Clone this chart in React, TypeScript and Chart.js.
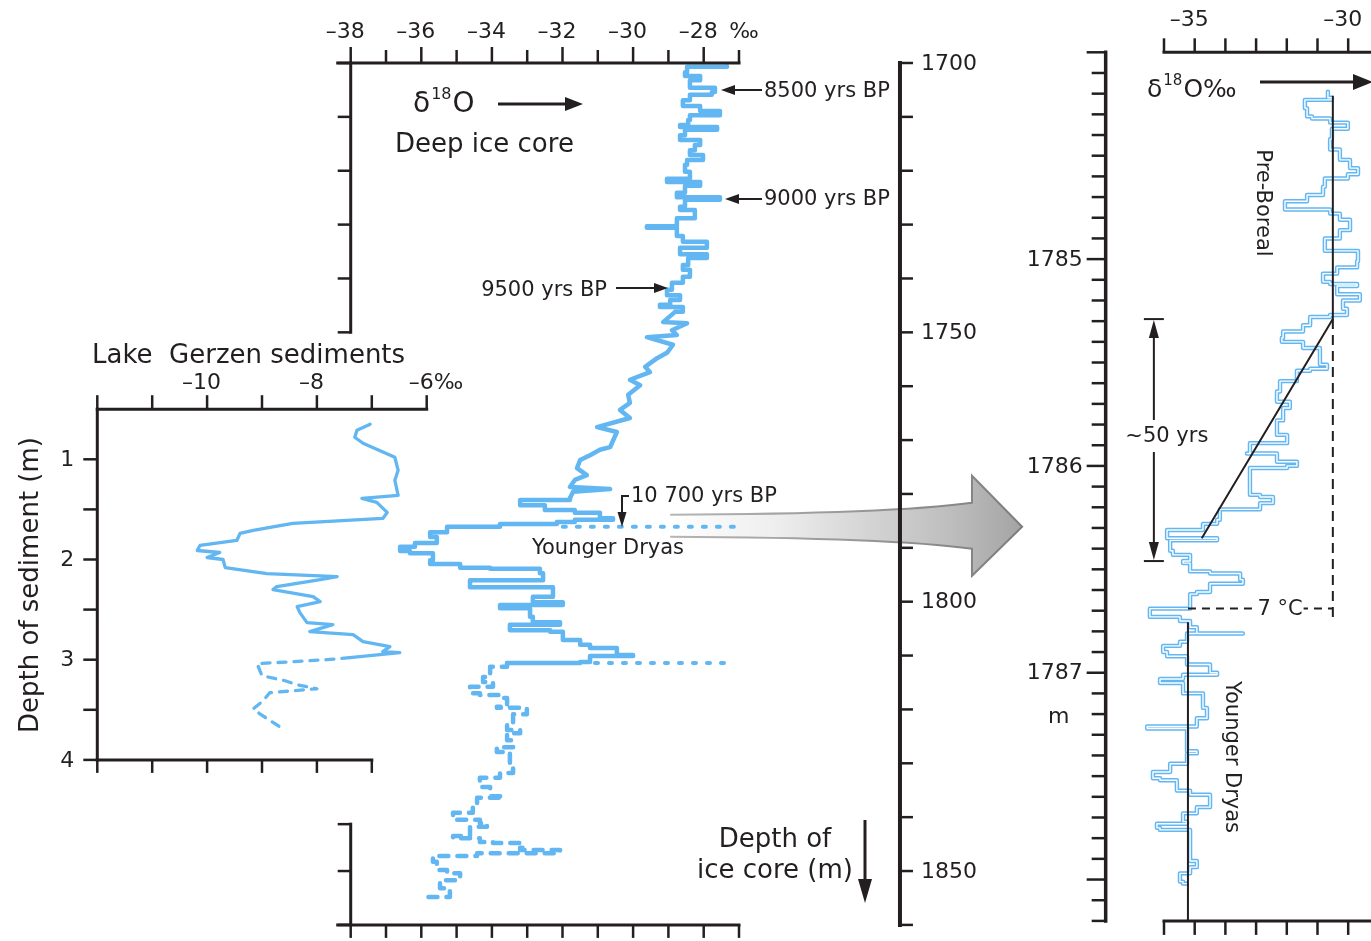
import React, { useEffect, useRef } from "react";
import { Chart, registerables } from "chart.js";

Chart.register(...registerables);

const W = 1371;
const H = 941;
const FONT = '"DejaVu Sans", "Open Sans", sans-serif';
const INK = "#231f20";
const BLUE = "#62b6f1";

// ---------------- Deep ice core: δ18O (‰) against depth (m) ----------------
const iceDelta = [
  -27.34, -28.47, -28.53, -28.10, -28.39, -27.68, -27.77, -28.39, -28.59, -28.10,
  -27.54, -28.39, -28.44, -28.67, -27.62, -28.53, -28.67, -28.10, -28.25, -28.39,
  -28.02, -28.47, -28.53, -28.39, -29.04, -28.10, -28.53, -28.76, -27.54, -28.53,
  -28.67, -28.25, -28.76, -29.61, -28.76, -28.59, -27.91, -28.67, -27.91, -28.44,
  -28.59, -28.39, -28.59, -28.90, -29.04, -28.67, -28.95, -29.24, -28.59, -28.81,
  -29.15, -28.47, -28.90, -28.76, -29.61, -28.87, -29.04, -29.32, -29.66, -29.52,
  -30.09, -29.80, -30.14, -30.09, -30.37, -30.09, -31.02, -30.46, -30.65, -30.94,
  -31.22, -31.50, -31.59, -31.31, -31.65, -31.79, -30.65, -31.70, -31.79, -33.20,
  -32.50, -31.65, -30.94, -30.57, -31.65, -32.16, -33.77, -35.27, -35.75, -35.56,
  -36.18, -36.60, -36.32, -35.67, -35.75, -34.90, -34.05, -32.64, -32.55, -34.62,
  -34.62, -32.27, -32.84, -31.99, -33.77, -32.92, -32.84, -32.07, -33.49, -32.35,
  -31.99, -31.50, -31.22, -30.46, -30.00, -31.22, -31.50, -33.57, -34.05, -34.25,
  -33.97, -34.62, -34.34, -33.77, -33.57, -33.86, -33.01, -33.01, -33.40, -33.57,
  -33.20, -33.57, -33.40, -33.86, -33.49, -33.40, -33.77, -34.34, -34.05, -33.68,
  -34.42, -34.54, -35.10, -34.34, -34.14, -34.62, -35.10, -34.34, -33.97, -33.12,
  -33.20, -32.07, -34.42, -35.67, -35.56, -35.27, -34.90, -35.47, -35.19, -36.04,
];
const iceDepth = [
  1700.6, 1700.7, 1701.7, 1702.4, 1703.2, 1704.6, 1705.4, 1705.9, 1706.9, 1708.0,
  1708.9, 1709.7, 1710.6, 1711.5, 1711.9, 1712.4, 1713.4, 1714.3, 1715.2, 1716.2,
  1717.1, 1718.0, 1718.9, 1720.2, 1721.5, 1722.1, 1722.8, 1724.1, 1724.9, 1725.4,
  1726.7, 1727.3, 1728.8, 1730.3, 1730.6, 1732.1, 1733.2, 1734.3, 1735.5, 1736.2,
  1737.5, 1738.4, 1739.7, 1740.8, 1742.1, 1743.1, 1744.0, 1744.9, 1745.3, 1746.2,
  1748.1, 1748.3, 1749.6, 1750.5, 1750.9, 1752.3, 1753.8, 1754.8, 1756.4, 1757.4,
  1758.8, 1759.8, 1761.6, 1763.1, 1764.4, 1765.9, 1767.6, 1768.5, 1771.3, 1771.8,
  1772.8, 1773.7, 1775.2, 1776.5, 1777.4, 1778.7, 1779.1, 1779.6, 1780.8, 1781.1,
  1782.1, 1783.0, 1783.5, 1784.5, 1784.8, 1785.2, 1785.6, 1786.1, 1787.1, 1788.0,
  1789.1, 1789.8, 1790.6, 1791.0, 1792.3, 1793.0, 1793.7, 1793.9, 1794.7, 1796.0,
  1796.5, 1797.3, 1799.1, 1800.1, 1800.6, 1801.2, 1802.8, 1803.8, 1804.3, 1805.3,
  1805.6, 1807.1, 1808.0, 1808.6, 1809.9, 1810.1, 1811.2, 1811.4, 1812.1, 1814.0,
  1814.9, 1815.8, 1817.0, 1817.3, 1817.9, 1819.5, 1819.7, 1820.5, 1820.9, 1822.5,
  1823.8, 1824.4, 1825.7, 1827.0, 1827.9, 1830.7, 1831.8, 1832.7, 1834.4, 1836.1,
  1836.4, 1838.1, 1839.2, 1840.5, 1841.1, 1841.8, 1843.5, 1843.9, 1844.6, 1844.8,
  1845.7, 1846.1, 1846.7, 1847.2, 1848.3, 1849.8, 1850.4, 1851.7, 1853.2, 1854.8,
];
// depth interval where the ice-core record drifts smoothly (drawn without steps)
const iceSmoothInterval = [1746.2, 1780.8];
// below this depth the record is drawn broken
const iceBrokenFrom = 1811.4;
// dotted marker lines (10 700 yrs BP boundary and start of Younger Dryas)
const boundaryDelta = [-31.99, -26.97];
const boundaryDepth = [1786.1, 1786.1];
const ydStartDelta = [-31.08, -27.34];
const ydStartDepth = [1811.4, 1811.4];

// ---------------- Lake Gerzen sediments: δ18O (‰) against depth (m) ----------------
const lakeDelta = [
  -7.03, -7.27, -7.31, -7.16, -6.58, -6.52, -6.58, -6.52, -7.18, -6.91,
  -6.72, -6.80, -8.44, -9.16, -9.40, -9.46, -10.13, -10.18, -9.77, -10.00,
  -9.71, -9.67, -8.91, -7.63, -7.94, -8.73, -8.80, -8.07, -7.94, -8.36,
  -8.31, -8.18, -7.71, -8.13, -7.34, -7.16, -6.67, -6.80, -6.49, -7.40,
  -7.82, -9.09, -9.00, -8.58, -8.36, -8.00, -8.86, -8.98, -9.16, -9.04, -8.62,
];
const lakeDepth = [
  0.65, 0.71, 0.78, 0.84, 0.98, 1.11, 1.21, 1.36, 1.39, 1.43,
  1.53, 1.59, 1.64, 1.71, 1.74, 1.81, 1.86, 1.91, 1.93, 1.98,
  2.00, 2.08, 2.14, 2.17, 2.20, 2.27, 2.30, 2.37, 2.42, 2.47,
  2.53, 2.63, 2.65, 2.72, 2.75, 2.82, 2.87, 2.92, 2.93, 2.98,
  3.00, 3.04, 3.16, 3.21, 3.25, 3.29, 3.33, 3.41, 3.49, 3.54, 3.69,
];
const lakeBrokenFrom = 2.98;

// ---------------- Detail of the transition (1784–1788 m) ----------------
const detailDelta = [
  -30.66, -30.53, -31.41, -31.34, -31.18, -30.59, -30.01, -30.53, -30.59, -30.27,
  -29.94, -29.68, -30.01, -30.76, -30.82, -31.34, -32.06, -31.80, -30.59, -30.27,
  -29.94, -30.27, -30.76, -30.76, -29.68, -29.71, -30.36, -30.82, -30.59, -29.71,
  -30.36, -29.62, -30.17, -30.04, -30.59, -31.24, -31.47, -32.12, -32.16, -31.47,
  -30.92, -30.69, -31.24, -31.67, -32.22, -32.32, -31.90, -32.12, -32.32, -32.32,
  -31.99, -33.20, -33.30, -32.32, -31.67, -31.99, -33.20, -33.20, -32.87, -32.45,
  -32.87, -34.18, -34.27, -34.73, -35.90, -34.27, -35.80, -35.71, -35.15, -35.38,
  -35.15, -34.50, -33.52, -33.43, -34.50, -34.93, -35.15, -35.15, -36.46, -35.48,
  -35.15, -34.93, -33.43, -35.25, -35.48, -36.03, -35.90, -35.25, -34.50, -34.27,
  -35.38, -36.13, -35.38, -34.73, -34.60, -34.93, -36.55, -35.25, -34.93, -35.25,
  -35.80, -36.36, -36.13, -35.58, -35.15, -34.50, -34.50, -34.93, -35.38, -35.25,
  -36.23, -36.13, -35.15, -35.15, -34.93, -35.15, -35.48, -35.38, -35.25,
];
const detailDepth = [
  1784.19, 1784.22, 1784.23, 1784.27, 1784.31, 1784.32, 1784.34, 1784.37, 1784.42, 1784.47,
  1784.52, 1784.56, 1784.59, 1784.61, 1784.65, 1784.69, 1784.72, 1784.76, 1784.76, 1784.78,
  1784.81, 1784.86, 1784.90, 1784.94, 1784.96, 1785.01, 1785.04, 1785.07, 1785.11, 1785.12,
  1785.13, 1785.17, 1785.20, 1785.24, 1785.27, 1785.28, 1785.32, 1785.35, 1785.38, 1785.40,
  1785.43, 1785.51, 1785.53, 1785.54, 1785.59, 1785.64, 1785.69, 1785.72, 1785.78, 1785.82,
  1785.85, 1785.89, 1785.94, 1785.94, 1785.98, 1786.00, 1786.01, 1786.07, 1786.14, 1786.15,
  1786.18, 1786.21, 1786.26, 1786.28, 1786.31, 1786.35, 1786.36, 1786.41, 1786.43, 1786.46,
  1786.47, 1786.51, 1786.52, 1786.55, 1786.57, 1786.61, 1786.62, 1786.67, 1786.69, 1786.73,
  1786.75, 1786.78, 1786.81, 1786.81, 1786.85, 1786.87, 1786.90, 1786.92, 1786.96, 1787.00,
  1787.01, 1787.03, 1787.05, 1787.10, 1787.17, 1787.22, 1787.26, 1787.27, 1787.38, 1787.39,
  1787.44, 1787.48, 1787.51, 1787.52, 1787.57, 1787.59, 1787.63, 1787.65, 1787.68, 1787.72,
  1787.73, 1787.75, 1787.76, 1787.83, 1787.91, 1787.94, 1787.97, 1788.01, 1788.02,
];
// schematic trend lines of the detail panel
const preBorealDelta = [-30.5, -30.5, -34.77];
const preBorealDepth = [1784.21, 1785.29, 1786.35];
const dropDelta = [-30.5, -30.5];
const dropDepth = [1785.29, 1786.73];
const coolingDelta = [-35.22, -30.5];
const coolingDepth = [1786.69, 1786.69];
const youngerDryasDelta = [-35.22, -35.22];
const youngerDryasDepth = [1786.76, 1788.2];
const bracketDepth = [1785.29, 1786.46];
const bracketDelta = -36.33;

// ---------------- axes: ranges, ticks and labels ----------------
const iceDeltaRange = [-38, -27];
const iceDepthRange = [1700, 1860];
const iceDeltaTicks = [-38, -37, -36, -35, -34, -33, -32, -31, -30, -29, -28, -27];
const iceDeltaLabels = [-38, -36, -34, -32, -30, -28];
const iceDepthTicks = [1700, 1710, 1720, 1730, 1740, 1750, 1760, 1770, 1780, 1790, 1800, 1810, 1820, 1830, 1840, 1850, 1860];
const iceDepthLabels = [1700, 1750, 1800, 1850];
const iceLeftUpper = [1700, 1750];
const iceLeftLower = [1841.3, 1860];
const iceDepthAxisAt = -22.44;

const lakeDeltaRange = [-12, -6];
const lakeDepthRange = [0.5, 4];
const lakeDeltaTicks = [-12, -11, -10, -9, -8, -7, -6];
const lakeDeltaLabels = [-10, -8, -6];
const lakeBottomTicks = [-12, -11, -10, -9, -8, -7];
const lakeDepthTicks = [1, 1.5, 2, 2.5, 3, 3.5, 4];
const lakeDepthLabels = [1, 2, 3, 4];

const detailDeltaRange = [-36, -29.257];
const detailDepthRange = [1784.0, 1788.2];
const detailDeltaTicks = [-36, -35, -34, -33, -32, -31, -30];
const detailDeltaLabels = [-35, -30];
const detailDepthLabels = [1785, 1786, 1787];
const detailDepthAxisAt = -37.9;
const detailDepthTicks = Array.from({ length: 43 }, (_, i) => Math.round((1784 + i * 0.1) * 10) / 10);

// big grey arrow (in ice-core data units)
const arrowFrom = -28.95;
const arrowHeadBase = -20.4;
const arrowTip = -18.98;
const arrowDepth = 1786.1;

type Box = { l: number; r: number; t: number; b: number };
const ICE_BOX: Box = { l: 350.7, r: 739, t: 63, b: 924.9 };
const LAKE_BOX: Box = { l: 97.3, r: 426.7, t: 409.2, b: 759.9 };
const DETAIL_BOX: Box = { l: 1164, r: W, t: 52.3, b: 920.9 };

// ---------------- helpers ----------------
const pts = (xs: number[], ys: number[]) => xs.map((x, i) => ({ x, y: ys[i] }));
const inDepth = (data: { x: number; y: number }[], lo: number, hi: number) => data.filter((p) => p.y >= lo && p.y <= hi);

function seg(ctx: CanvasRenderingContext2D, x1: number, y1: number, x2: number, y2: number) {
  ctx.beginPath();
  ctx.moveTo(x1, y1);
  ctx.lineTo(x2, y2);
  ctx.stroke();
}
function head(ctx: CanvasRenderingContext2D, tx: number, ty: number, dx: number, dy: number, len: number, half: number) {
  const nx = -dy, ny = dx;
  ctx.beginPath();
  ctx.moveTo(tx, ty);
  ctx.lineTo(tx - dx * len + nx * half, ty - dy * len + ny * half);
  ctx.lineTo(tx - dx * len - nx * half, ty - dy * len - ny * half);
  ctx.closePath();
  ctx.fill();
}
function arrow(ctx: CanvasRenderingContext2D, x1: number, y1: number, x2: number, y2: number, len: number, half: number, lw: number) {
  const L = Math.hypot(x2 - x1, y2 - y1);
  const dx = (x2 - x1) / L, dy = (y2 - y1) / L;
  ctx.lineWidth = lw;
  ctx.lineCap = "butt";
  seg(ctx, x1, y1, x2 - dx * len * 0.7, y2 - dy * len * 0.7);
  head(ctx, x2, y2, dx, dy, len, half);
}
function txt(ctx: CanvasRenderingContext2D, s: string, x: number, y: number, size: number,
  align: CanvasTextAlign = "left", base: CanvasTextBaseline = "alphabetic", rot = 0) {
  ctx.save();
  ctx.font = `${size}px ${FONT}`;
  ctx.textAlign = align;
  ctx.textBaseline = base;
  ctx.translate(x, y);
  if (rot) ctx.rotate(rot);
  ctx.fillText(s, 0, 0);
  ctx.restore();
}
// numeric tick label whose digits are centred on the tick (minus sign hangs to the left)
function tickLabel(ctx: CanvasRenderingContext2D, v: number, x: number, y: number, size: number, suffix = "") {
  ctx.save();
  ctx.font = `${size}px ${FONT}`;
  ctx.textAlign = "left";
  ctx.textBaseline = "alphabetic";
  const digits = String(Math.abs(v));
  const dw = ctx.measureText(digits).width;
  const minus = v < 0 ? "\u2013" : "";
  const mw = ctx.measureText(minus).width;
  ctx.fillText(minus + digits + suffix, x - dw / 2 - mw, y);
  ctx.restore();
}
function delta18(ctx: CanvasRenderingContext2D, x: number, y: number, size: number, sup: number, tail: string) {
  ctx.save();
  ctx.textAlign = "left";
  ctx.textBaseline = "alphabetic";
  ctx.font = `${size}px ${FONT}`;
  ctx.fillText("\u03b4", x, y);
  let cx = x + ctx.measureText("\u03b4").width + 1;
  ctx.font = `${sup}px ${FONT}`;
  ctx.fillText("18", cx, y - size * 0.48);
  cx += ctx.measureText("18").width + 1;
  ctx.font = `${size}px ${FONT}`;
  ctx.fillText("O" + tail, cx, y);
  ctx.restore();
}
function scalers(chart: any) {
  const sx = chart.scales.x, sy = chart.scales.y;
  return { X: (v: number) => sx.getPixelForValue(v), Y: (v: number) => sy.getPixelForValue(v) };
}

function lineDs(data: any[], color: string, width: number, extra: any = {}) {
  return {
    data,
    borderColor: color,
    backgroundColor: color,
    borderWidth: width,
    showLine: true,
    pointRadius: 0,
    pointHoverRadius: 0,
    fill: false,
    clip: false,
    tension: 0,
    borderCapStyle: "round",
    borderJoinStyle: "round",
    ...extra,
  };
}

function baseOptions(box: Box, xr: number[], yr: number[]): any {
  return {
    responsive: false,
    maintainAspectRatio: false,
    animation: false,
    devicePixelRatio: 1,
    events: [],
    layout: { padding: { left: box.l, right: W - box.r, top: box.t, bottom: H - box.b } },
    plugins: { legend: { display: false }, tooltip: { enabled: false }, title: { display: false } },
    scales: {
      x: { type: "linear", display: false, min: xr[0], max: xr[1] },
      y: { type: "linear", display: false, min: yr[0], max: yr[1], reverse: true },
    },
  };
}

// ---------------- plugins (axes and annotations) ----------------
const iceDecor = {
  id: "iceDecor",
  beforeDatasetsDraw(chart: any) {
    const ctx: CanvasRenderingContext2D = chart.ctx;
    const { X, Y } = scalers(chart);
    const x0 = X(arrowFrom), xb = X(arrowHeadBase), xt = X(arrowTip), yc = Y(arrowDepth);
    ctx.save();
    const g = ctx.createLinearGradient(x0, 0, xt, 0);
    g.addColorStop(0, "rgba(255,255,255,1)");
    g.addColorStop(0.3, "#eeeeee");
    g.addColorStop(0.8, "#bdbdbd");
    g.addColorStop(1, "#a4a4a4");
    const path = () => {
      ctx.beginPath();
      ctx.moveTo(x0, yc - 12);
      ctx.quadraticCurveTo(xb - 80, yc - 13, xb, yc - 24);
      ctx.lineTo(xb, yc - 51);
      ctx.lineTo(xt, yc);
      ctx.lineTo(xb, yc + 49);
      ctx.lineTo(xb, yc + 22);
      ctx.quadraticCurveTo(xb - 80, yc + 11, x0, yc + 10);
    };
    path();
    ctx.closePath();
    ctx.fillStyle = g;
    ctx.fill();
    path();
    const gs = ctx.createLinearGradient(x0, 0, xt, 0);
    gs.addColorStop(0, "#b5b5b5");
    gs.addColorStop(1, "#7d7d7d");
    ctx.strokeStyle = gs;
    ctx.lineWidth = 2;
    ctx.lineJoin = "miter";
    ctx.stroke();
    ctx.restore();
  },
  afterDraw(chart: any) {
    const ctx: CanvasRenderingContext2D = chart.ctx;
    const { X, Y } = scalers(chart);
    ctx.save();
    ctx.strokeStyle = INK;
    ctx.fillStyle = INK;
    const top = Y(iceDepthRange[0]), bot = Y(iceDepthRange[1]);
    const left = X(iceDeltaRange[0]), right = X(iceDeltaRange[1]);
    // top & bottom δ axes
    ctx.lineCap = "square";
    ctx.lineWidth = 3;
    seg(ctx, left - 13, top, right, top);
    seg(ctx, left - 13, bot, right, bot);
    ctx.lineCap = "butt";
    ctx.lineWidth = 2.5;
    for (const v of iceDeltaTicks) {
      const major = iceDeltaLabels.includes(v);
      seg(ctx, X(v), top, X(v), top - (major ? 16 : 13));
      seg(ctx, X(v), bot, X(v), bot + 13);
    }
    for (const v of iceDeltaLabels) tickLabel(ctx, v, X(v), top - 25, 22);
    txt(ctx, "\u2030", right + 5, top - 25, 22, "center");
    // left depth axis (broken)
    ctx.lineCap = "square";
    ctx.lineWidth = 3;
    seg(ctx, left, top, left, Y(iceLeftUpper[1]));
    seg(ctx, left, Y(iceLeftLower[0]), left, bot);
    ctx.lineCap = "butt";
    ctx.lineWidth = 2.5;
    for (const d of iceDepthTicks) {
      if (d <= iceLeftUpper[1] || d >= iceLeftLower[0]) seg(ctx, left, Y(d), left - 13, Y(d));
    }
    seg(ctx, left, Y(iceLeftLower[0]), left - 13, Y(iceLeftLower[0]));
    // right depth axis
    const ax = X(iceDepthAxisAt);
    ctx.lineCap = "square";
    ctx.lineWidth = 4;
    seg(ctx, ax, top, ax, bot);
    ctx.lineCap = "butt";
    ctx.lineWidth = 2.5;
    for (const d of iceDepthTicks) seg(ctx, ax, Y(d), ax + 13, Y(d));
    for (const d of iceDepthLabels) txt(ctx, String(d), ax + 21, Y(d) + 1, 22, "left", "middle");

    // annotations
    delta18(ctx, 413, 112, 28, 16, "");
    arrow(ctx, 498, 104, 583, 104, 18, 7, 3);
    txt(ctx, "Deep ice core", 395, 152, 26);
    txt(ctx, "8500 yrs BP", 764, 97, 21);
    arrow(ctx, 762, 90, 721, 90, 14, 5, 2);
    txt(ctx, "9000 yrs BP", 764, 205, 21);
    arrow(ctx, 762, 199, 725, 199, 14, 5, 2);
    txt(ctx, "9500 yrs BP", 607, 296, 21, "right");
    arrow(ctx, 616, 288, 668, 288, 14, 5, 2);
    txt(ctx, "10 700 yrs BP", 631, 502, 21);
    ctx.lineWidth = 2;
    ctx.lineCap = "butt";
    ctx.beginPath();
    ctx.moveTo(629, 496);
    ctx.lineTo(622, 496);
    ctx.lineTo(622, 515);
    ctx.stroke();
    head(ctx, 622, 527, 0, 1, 15, 4.5);
    txt(ctx, "Younger Dryas", 608, 554, 21, "center");
    txt(ctx, "Depth of", 775, 847, 26, "center");
    txt(ctx, "ice core (m)", 775, 878, 26, "center");
    arrow(ctx, 865, 820, 865, 903, 24, 7, 3);
    ctx.restore();
  },
};

const lakeDecor = {
  id: "lakeDecor",
  afterDraw(chart: any) {
    const ctx: CanvasRenderingContext2D = chart.ctx;
    const { X, Y } = scalers(chart);
    ctx.save();
    ctx.strokeStyle = INK;
    ctx.fillStyle = INK;
    const top = Y(lakeDepthRange[0]), bot = Y(lakeDepthRange[1]);
    const left = X(lakeDeltaRange[0]), right = X(lakeDeltaRange[1]);
    ctx.lineCap = "square";
    ctx.lineWidth = 3;
    seg(ctx, left, top, right, top);
    seg(ctx, left, top, left, bot);
    seg(ctx, left, bot, X(lakeBottomTicks[lakeBottomTicks.length - 1]), bot);
    ctx.lineCap = "butt";
    ctx.lineWidth = 2.5;
    for (const v of lakeDeltaTicks) seg(ctx, X(v), top, X(v), top - 14);
    for (const v of lakeBottomTicks) seg(ctx, X(v), bot, X(v), bot + 13);
    for (const d of lakeDepthTicks) seg(ctx, left, Y(d), left - 14, Y(d));
    for (const v of lakeDeltaLabels) tickLabel(ctx, v, X(v), top - 20, 22, v === -6 ? "\u2030" : "");
    for (const d of lakeDepthLabels) txt(ctx, String(d), left - 30, Y(d) + 1, 22, "center", "middle");
    txt(ctx, "Lake  Gerzen sediments", 92, 363, 26);
    txt(ctx, "Depth of sediment (m)", 31, 585, 26, "center", "middle", -Math.PI / 2);
    ctx.restore();
  },
};

const detailDecor = {
  id: "detailDecor",
  afterDatasetsDraw(chart: any) {
    const ctx: CanvasRenderingContext2D = chart.ctx;
    const { X, Y } = scalers(chart);
    ctx.save();
    ctx.fillStyle = INK;
    ctx.strokeStyle = INK;
    // temperature label on the dashed cooling line
    const ty = Y(coolingDepth[0]);
    ctx.font = `21px ${FONT}`;
    const label = "7 \u00b0C";
    const lw = ctx.measureText(label).width;
    const cx = 1280;
    ctx.fillStyle = "#fff";
    ctx.fillRect(cx - lw / 2 - 1, ty - 12, lw + 2, 24);
    ctx.fillStyle = INK;
    txt(ctx, label, cx, ty + 1, 21, "center", "middle");
    // ~50 yrs bracket
    const bx = X(bracketDelta);
    const y1 = Y(bracketDepth[0]), y2 = Y(bracketDepth[1]);
    ctx.lineWidth = 2;
    ctx.lineCap = "butt";
    seg(ctx, bx - 10, y1, bx + 10, y1);
    seg(ctx, bx - 10, y2, bx + 10, y2);
    seg(ctx, bx, y1 + 14, bx, 420);
    seg(ctx, bx, 452, bx, y2 - 14);
    head(ctx, bx, y1 + 1, 0, -1, 18, 5);
    head(ctx, bx, y2 - 1, 0, 1, 18, 5);
    txt(ctx, "~50 yrs", bx + 13, 442, 21, "center");
    ctx.restore();
  },
  afterDraw(chart: any) {
    const ctx: CanvasRenderingContext2D = chart.ctx;
    const { X, Y } = scalers(chart);
    ctx.save();
    ctx.strokeStyle = INK;
    ctx.fillStyle = INK;
    const top = Y(detailDepthRange[0]), bot = Y(detailDepthRange[1]);
    const left = X(detailDeltaRange[0]), right = X(detailDeltaRange[1]);
    ctx.lineCap = "square";
    ctx.lineWidth = 3;
    seg(ctx, left, top, right + 2, top);
    seg(ctx, left, bot, right + 2, bot);
    ctx.lineCap = "butt";
    ctx.lineWidth = 2.5;
    for (const v of detailDeltaTicks) {
      seg(ctx, X(v), top, X(v), top - 14);
      seg(ctx, X(v), bot, X(v), bot + 14);
    }
    for (const v of detailDeltaLabels) tickLabel(ctx, v, X(v), top - 26, 22);
    // depth axis
    const ax = X(detailDepthAxisAt);
    ctx.lineCap = "square";
    ctx.lineWidth = 3.5;
    seg(ctx, ax, top, ax, bot);
    ctx.lineCap = "butt";
    ctx.lineWidth = 2.5;
    for (const d of detailDepthTicks) {
      const major = Math.abs(d - Math.round(d)) < 1e-6;
      seg(ctx, ax, Y(d), ax - (major ? 19 : 14), Y(d));
    }
    for (const d of detailDepthLabels) txt(ctx, String(d), ax - 23, Y(d) + 1, 22, "right", "middle");
    txt(ctx, "m", ax - 47, 723, 22, "center");
    // title and labels
    delta18(ctx, 1147, 97, 25, 15, "\u2030");
    arrow(ctx, 1260, 82, 1373, 82, 20, 8, 3);
    txt(ctx, "Pre-Boreal", 1262, 203, 21, "center", "middle", Math.PI / 2);
    txt(ctx, "Younger Dryas", 1231, 757, 21, "center", "middle", Math.PI / 2);
    ctx.restore();
  },
};

// ---------------- chart configs ----------------
function iceConfig(): any {
  const all = pts(iceDelta, iceDepth);
  const [s0, s1] = iceSmoothInterval;
  return {
    type: "scatter",
    data: {
      datasets: [
        lineDs(pts(boundaryDelta, boundaryDepth), BLUE, 4, { borderDash: [3, 11] }),
        lineDs(pts(ydStartDelta, ydStartDepth), BLUE, 4, { borderDash: [3, 11] }),
        lineDs(inDepth(all, -Infinity, s0), BLUE, 4.5, { stepped: "after" }),
        lineDs(inDepth(all, s0, s1), BLUE, 4.5),
        lineDs(inDepth(all, s1, Infinity), BLUE, 4.5, {
          stepped: "after",
          segment: { borderDash: (c: any) => (c.p0.parsed.y >= iceBrokenFrom ? [9, 9] : undefined) },
        }),
      ],
    },
    options: baseOptions(ICE_BOX, iceDeltaRange, iceDepthRange),
    plugins: [iceDecor],
  };
}
function lakeConfig(): any {
  return {
    type: "scatter",
    data: {
      datasets: [
        lineDs(pts(lakeDelta, lakeDepth), BLUE, 3.3, {
          segment: { borderDash: (c: any) => (c.p0.parsed.y >= lakeBrokenFrom ? [8, 8] : undefined) },
        }),
      ],
    },
    options: baseOptions(LAKE_BOX, lakeDeltaRange, lakeDepthRange),
    plugins: [lakeDecor],
  };
}
function detailConfig(): any {
  return {
    type: "scatter",
    data: {
      datasets: [
        lineDs(pts(preBorealDelta, preBorealDepth), INK, 2, { borderCapStyle: "butt", borderJoinStyle: "miter" }),
        lineDs(pts(youngerDryasDelta, youngerDryasDepth), INK, 2, { borderCapStyle: "butt" }),
        lineDs(pts(dropDelta, dropDepth), INK, 2, { borderDash: [10, 6], borderCapStyle: "butt" }),
        lineDs(pts(coolingDelta, coolingDepth), INK, 2, { borderDash: [8, 6], borderCapStyle: "butt" }),
        lineDs(pts(detailDelta, detailDepth), "#ffffff", 1.4, { stepped: "after" }),
        lineDs(pts(detailDelta, detailDepth), BLUE, 4.4, { stepped: "after" }),
      ],
    },
    options: baseOptions(DETAIL_BOX, detailDeltaRange, detailDepthRange),
    plugins: [detailDecor],
  };
}

export default function App() {
  const lakeRef = useRef<HTMLCanvasElement>(null);
  const iceRef = useRef<HTMLCanvasElement>(null);
  const detailRef = useRef<HTMLCanvasElement>(null);

  useEffect(() => {
    const charts = [
      new Chart(lakeRef.current as HTMLCanvasElement, lakeConfig()),
      new Chart(iceRef.current as HTMLCanvasElement, iceConfig()),
      new Chart(detailRef.current as HTMLCanvasElement, detailConfig()),
    ];
    return () => charts.forEach((c) => c.destroy());
  }, []);

  const cs: React.CSSProperties = { position: "absolute", left: 0, top: 0, width: W, height: H };
  return (
    <div style={{ position: "absolute", left: 0, top: 0, width: W, height: H, background: "#fff", overflow: "hidden" }}>
      <canvas ref={lakeRef} width={W} height={H} style={cs} />
      <canvas ref={iceRef} width={W} height={H} style={cs} />
      <canvas ref={detailRef} width={W} height={H} style={cs} />
    </div>
  );
}
